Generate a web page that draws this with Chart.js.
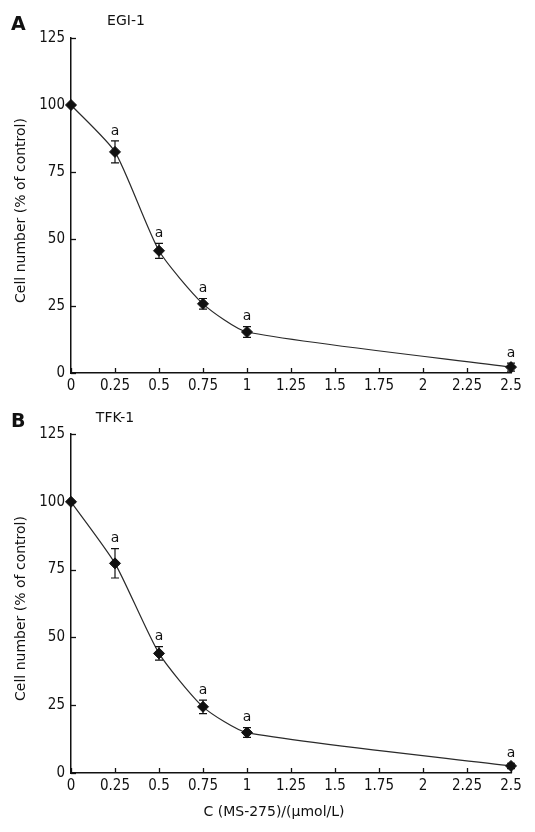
<!DOCTYPE html>
<html lang="en">
<head>
  <meta charset="UTF-8">
  <title>MS-275 cell number</title>
  <script src="https://cdn.jsdelivr.net/npm/chart.js"></script>
  <style>
    body { margin: 0; background: #fff; }
    .panel { position: absolute; left: 0; width: 535px; }
    #panelA { top: 0; height: 400px; }
    #panelB { top: 400px; height: 432px; }
  </style>
</head>
<body>
  <div class="panel" id="panelA"><canvas id="chartA"></canvas></div>
  <div class="panel" id="panelB"><canvas id="chartB"></canvas></div>

  <script>
    // Data
    const doses = [0, 0.25, 0.5, 0.75, 1, 2.5];
    const egiMean = [100, 82.5, 45.6, 25.8, 15.3, 2.2];
    const egiErr = [0, 4.1, 2.8, 2.0, 2.0, 1.5];
    const tfkMean = [100, 77.3, 44.1, 24.4, 14.9, 2.6];
    const tfkErr = [0, 5.4, 2.5, 2.5, 1.8, 1.0];
    const sigMarks = ['', 'a', 'a', 'a', 'a', 'a'];

    const xTicks = ['0', '0.25', '0.5', '0.75', '1', '1.25', '1.5', '1.75', '2', '2.25', '2.5'];
    const yTicks = ['0', '25', '50', '75', '100', '125'];

    const TICKFONT = '"DejaVu Sans Condensed", "DejaVu Sans", sans-serif';
    const FONT = '"DejaVu Sans", sans-serif';
    const INK = '#111';

    // error bars, inward ticks, labels
    const decorPlugin = {
      id: 'decor',
      afterDatasetsDraw(chart, args, opts) {
        const ctx = chart.ctx;
        const xs = chart.scales.x, ys = chart.scales.y;
        const area = chart.chartArea;
        ctx.save();

        // inward tick marks
        ctx.strokeStyle = INK;
        ctx.lineWidth = 1.3;
        xs.ticks.forEach(t => {
          const px = Math.round(xs.getPixelForValue(t.value)) + 0.5;
          ctx.beginPath();
          ctx.moveTo(px, area.bottom);
          ctx.lineTo(px, area.bottom - 5);
          ctx.stroke();
        });
        ys.ticks.forEach(t => {
          const py = Math.round(ys.getPixelForValue(t.value)) + 0.5;
          ctx.beginPath();
          ctx.moveTo(area.left, py);
          ctx.lineTo(area.left + 5, py);
          ctx.stroke();
        });

        // error bars + significance letters
        ctx.lineWidth = 1.2;
        ctx.fillStyle = INK;
        ctx.font = '14px ' + FONT;
        ctx.textAlign = 'center';
        ctx.textBaseline = 'bottom';
        opts.mean.forEach((m, i) => {
          const px = xs.getPixelForValue(doses[i]);
          const top = ys.getPixelForValue(m + opts.err[i]);
          const bot = ys.getPixelForValue(m - opts.err[i]);
          if (opts.err[i] > 0) {
            ctx.beginPath();
            ctx.moveTo(px, top); ctx.lineTo(px, bot);
            ctx.moveTo(px - 4, top); ctx.lineTo(px + 4, top);
            ctx.moveTo(px - 4, bot); ctx.lineTo(px + 4, bot);
            ctx.stroke();
          }
          if (sigMarks[i]) ctx.fillText(sigMarks[i], px, top - 3);
        });

        // panel letter and title
        ctx.textBaseline = 'middle';
        ctx.textAlign = 'left';
        ctx.font = 'bold 19px ' + FONT;
        ctx.fillText(opts.letter, 11, opts.titleY + 4);
        ctx.textAlign = 'center';
        ctx.font = '14px ' + FONT;
        ctx.fillText(opts.title, opts.titleX, opts.titleY);

        // y axis title
        ctx.save();
        ctx.translate(21, (area.top + area.bottom) / 2 + 5);
        ctx.rotate(-Math.PI / 2);
        ctx.fillText('Cell number (% of control)', 0, 0);
        ctx.restore();

        if (opts.xTitle) {
          ctx.fillText(opts.xTitle, 274, area.bottom + 39);
        }
        ctx.restore();
      }
    };

    function makeChart(id, mean, err, padTop, xHeight, decor) {
      return new Chart(document.getElementById(id), {
        type: 'line',
        data: {
          datasets: [{
            data: doses.map((d, i) => ({ x: d, y: mean[i] })),
            borderColor: '#2a2a2a',
            borderWidth: 1.2,
            tension: 0.2,
            clip: false,
            pointStyle: 'rectRot',
            pointRadius: 5.5,
            pointBackgroundColor: INK,
            pointBorderColor: INK,
            pointBorderWidth: 1
          }]
        },
        options: {
          responsive: true,
          maintainAspectRatio: false,
          animation: false,
          layout: { padding: { top: padTop, right: 24, left: 0, bottom: 0 } },
          plugins: { legend: { display: false }, tooltip: { enabled: false }, decor: decor },
          scales: {
            x: {
              type: 'linear',
              min: 0, max: 2.5,
              grid: { display: false, drawTicks: false },
              border: { display: true, color: INK, width: 1.5 },
              ticks: {
                stepSize: 0.25,
                padding: 4,
                color: INK,
                font: { family: TICKFONT, size: 15 },
                maxRotation: 0,
                callback: (v, i) => xTicks[i]
              },
              afterFit: s => { s.height = xHeight; }
            },
            y: {
              min: 0, max: 125,
              grid: { display: false, drawTicks: false },
              border: { display: true, color: INK, width: 1.5 },
              ticks: {
                stepSize: 25,
                padding: 6,
                color: INK,
                font: { family: TICKFONT, size: 15 },
                callback: (v, i) => yTicks[i]
              },
              afterFit: s => { s.width = 71; }
            }
          }
        },
        plugins: [decorPlugin]
      });
    }

    makeChart('chartA', egiMean, egiErr, 38, 27,
      { mean: egiMean, err: egiErr, letter: 'A', title: 'EGI-1', titleX: 126, titleY: 21 });
    makeChart('chartB', tfkMean, tfkErr, 34, 59,
      { mean: tfkMean, err: tfkErr, letter: 'B', title: 'TFK-1', titleX: 115, titleY: 18,
        xTitle: 'C (MS-275)/(\u03bcmol/L)' });
  </script>
</body>
</html>
